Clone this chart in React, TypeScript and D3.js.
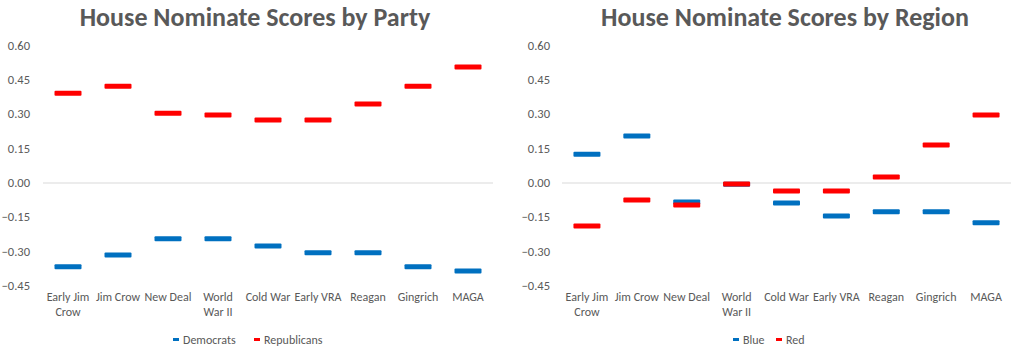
import React from "react";
import * as d3 from "d3";

const categories = ["Early Jim Crow", "Jim Crow", "New Deal", "World War II", "Cold War", "Early VRA", "Reagan", "Gingrich", "MAGA"];
const categoryLines = [["Early Jim", "Crow"], ["Jim Crow"], ["New Deal"], ["World", "War II"], ["Cold War"], ["Early VRA"], ["Reagan"], ["Gingrich"], ["MAGA"]];
const yTicks = [0.6, 0.45, 0.3, 0.15, 0, -0.15, -0.3, -0.45];

const democrats = [-0.366, -0.314, -0.244, -0.244, -0.275, -0.305, -0.305, -0.366, -0.384];
const republicans = [0.392, 0.423, 0.305, 0.297, 0.275, 0.275, 0.345, 0.423, 0.507];

const blue = [0.126, 0.205, -0.083, -0.005, -0.087, -0.144, -0.126, -0.126, -0.174];
const red = [-0.188, -0.074, -0.096, -0.004, -0.035, -0.035, 0.026, 0.166, 0.297];

const BLUE = "#0070C0";
const RED = "#FF0000";
const TEXT = "#595959";
const FONT = "Carlito, Calibri, Lato, sans-serif";

type Series = { name: string; color: string; values: number[] };

function Chart(props: {
  title: string;
  titleX: number;
  plotLeft: number;
  plotRight: number;
  labelRight: number;
  series: Series[];
  legendX: number[];
}) {
  const { title, titleX, plotLeft, plotRight, labelRight, series, legendX } = props;
  const y = d3.scaleLinear().domain([-0.45, 0.6]).range([286, 45.7]);
  const x = d3.scaleBand().domain(categories).range([plotLeft, plotRight]);
  const bw = x.bandwidth();
  const dashW = 27;
  const dashH = 5;
  return (
    <g fontFamily={FONT} fill={TEXT}>
      <text x={titleX} y={26} textAnchor="middle" fontSize={26} fontWeight="bold">{title}</text>
      <line x1={plotLeft} x2={plotRight} y1={y(0)} y2={y(0)} stroke="#D9D9D9" strokeWidth={1} />
      {yTicks.map((t) => (
        <text key={t} x={labelRight} y={y(t) + 4} textAnchor="end" fontSize={12.5}>{d3.format(".2f")(t)}</text>
      ))}
      {categories.map((c, i) => (
        <text key={c} x={(x(c) as number) + bw / 2} y={301} textAnchor="middle" fontSize={12}>
          {categoryLines[i].map((l, j) => (
            <tspan key={j} x={(x(c) as number) + bw / 2} dy={j === 0 ? 0 : 15}>{l}</tspan>
          ))}
        </text>
      ))}
      {series.map((s) => (
        <g key={s.name}>
          {s.values.map((v, i) => (
            <rect
              key={i}
              x={(x(categories[i]) as number) + bw / 2 - dashW / 2}
              y={y(v) - dashH / 2}
              width={dashW}
              height={dashH}
              rx={1}
              fill={s.color}
            />
          ))}
        </g>
      ))}
      {series.map((s, i) => (
        <g key={"lg" + s.name}>
          <rect x={legendX[i]} y={338} width={6} height={3} fill={s.color} />
          <text x={legendX[i] + 10} y={344} fontSize={12}>{s.name}</text>
        </g>
      ))}
    </g>
  );
}

export default function App() {
  return (
    <svg width={1016} height={358} style={{ position: "absolute", left: 0, top: 0, background: "#fff" }}>
      <rect width={1016} height={358} fill="#fff" />
      <Chart
        title="House Nominate Scores by Party"
        titleX={255}
        plotLeft={43}
        plotRight={493}
        labelRight={30}
        series={[
          { name: "Democrats", color: BLUE, values: democrats },
          { name: "Republicans", color: RED, values: republicans },
        ]}
        legendX={[173, 254]}
      />
      <Chart
        title="House Nominate Scores by Region"
        titleX={785}
        plotLeft={562}
        plotRight={1011}
        labelRight={550}
        series={[
          { name: "Blue", color: BLUE, values: blue },
          { name: "Red", color: RED, values: red },
        ]}
        legendX={[733, 776]}
      />
    </svg>
  );
}
